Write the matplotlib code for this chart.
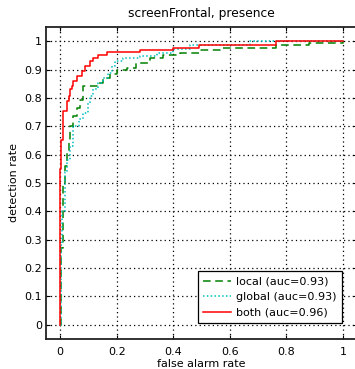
import matplotlib
matplotlib.use('Agg')
import matplotlib.pyplot as plt

plt.rcParams['font.family'] = ['DejaVu Sans']

# ROC curve vertices (steps-post)
local_fpr = [0, 0.004, 0.01, 0.018, 0.024, 0.030, 0.035, 0.047, 0.059, 0.071, 0.08, 0.135, 0.153,
             0.176, 0.2, 0.235, 0.27, 0.318, 0.364, 0.424, 0.494, 0.565, 0.765, 0.88, 1.0]
local_tpr = [0, 0.27, 0.50, 0.56, 0.61, 0.65, 0.70, 0.735, 0.765, 0.794, 0.841, 0.853, 0.871,
             0.886, 0.90, 0.906, 0.923, 0.941, 0.95, 0.959, 0.968, 0.976, 0.986, 0.994, 1.0]

global_fpr = [0, 0.002, 0.008, 0.018, 0.024, 0.035, 0.047, 0.065, 0.082, 0.1, 0.106, 0.118, 0.135,
              0.153, 0.17, 0.182, 0.194, 0.224, 0.282, 0.341, 0.40, 0.459, 0.67, 1.0]
global_tpr = [0, 0.28, 0.40, 0.54, 0.58, 0.63, 0.70, 0.724, 0.747, 0.782, 0.806, 0.83, 0.853,
              0.871, 0.888, 0.912, 0.929, 0.941, 0.947, 0.959, 0.971, 0.988, 1.0, 1.0]

both_fpr = [0, 0, 0.003, 0.01, 0.024, 0.030, 0.035, 0.041, 0.047, 0.059, 0.077, 0.088, 0.106,
            0.118, 0.135, 0.165, 0.282, 0.40, 0.49, 0.765, 1.0]
both_tpr = [0, 0.55, 0.65, 0.753, 0.79, 0.806, 0.83, 0.841, 0.859, 0.879, 0.894, 0.912, 0.929,
            0.941, 0.953, 0.961, 0.968, 0.975, 0.985, 1.0, 1.0]

labels = ['local (auc=0.93)', 'global (auc=0.93)', 'both (auc=0.96)']

fig = plt.figure(figsize=(3.55, 3.69), dpi=100)
ax = fig.add_axes([46 / 355, 30 / 369, 311 / 355, 312 / 369])

ax.plot(local_fpr, local_tpr, drawstyle='steps-post', color='#008000', linestyle=(0, (5, 3)),
        linewidth=1.1, label=labels[0])
ax.plot(global_fpr, global_tpr, drawstyle='steps-post', color='#00bfbf', linestyle=(0, (1, 1.5)),
        linewidth=1.1, label=labels[1])
ax.plot(both_fpr, both_tpr, drawstyle='steps-post', color='red', linewidth=1.1, label=labels[2])

ax.set_xlim(-0.05, 1.05)
ax.set_ylim(-0.05, 1.05)
ax.set_xticks([0, 0.2, 0.4, 0.6, 0.8, 1])
ax.set_xticklabels(['0', '0.2', '0.4', '0.6', '0.8', '1'])
ax.set_yticks([i / 10 for i in range(11)])
ax.set_yticklabels(['0', '0.1', '0.2', '0.3', '0.4', '0.5', '0.6', '0.7', '0.8', '0.9', '1'])
ax.tick_params(direction='in', length=3, width=0.8, labelsize=8, top=True, right=True)
ax.tick_params(axis='x', pad=6)
ax.tick_params(axis='y', pad=3)
ax.grid(True, color='black', linestyle=(0, (1, 2.5)), linewidth=0.9)
for s in ax.spines.values():
    s.set_linewidth(1.3)
    s.set_color('#222222')

ax.set_title('screenFrontal, presence', fontsize=8.8, pad=7)
ax.set_xlabel('false alarm rate', fontsize=8, labelpad=1)
ax.set_ylabel('detection rate', fontsize=8, labelpad=4)

leg = ax.legend(loc='lower right', bbox_to_anchor=(0.952, 0.051), fontsize=8, fancybox=False,
                framealpha=1, edgecolor='black', borderaxespad=0, handlelength=2.5,
                labelspacing=0.5, handletextpad=0.45, borderpad=0.5)
leg.get_frame().set_linewidth(0.9)

fig.savefig('out.png', dpi=100)
